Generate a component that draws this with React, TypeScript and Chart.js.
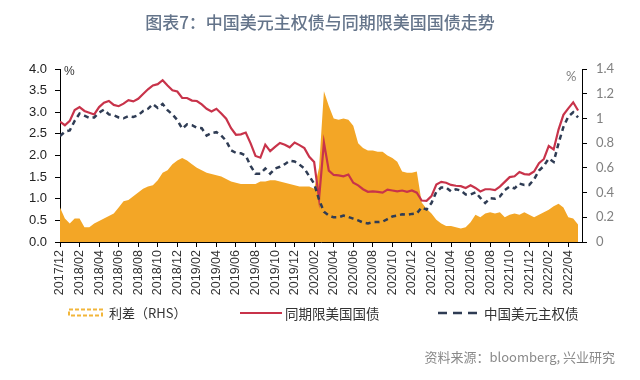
import React, { useEffect, useRef } from 'react';
import { Chart, registerables } from 'chart.js';

Chart.register(...registerables);

// Samples every half month, starting 2017/12
const START_YEAR = 2017;
const START_MONTH = 12;
const STEP_MONTHS = 0.5;

// 同期限美国国债 (%, left axis)
const usTreasury = [
  2.78, 2.70, 2.80, 3.05, 3.12, 3.03, 2.99, 2.95, 3.12, 3.22,
  3.26, 3.17, 3.14, 3.20, 3.28, 3.25, 3.31, 3.42, 3.53, 3.62,
  3.65, 3.74, 3.62, 3.51, 3.48, 3.33, 3.33, 3.27, 3.26, 3.18,
  3.08, 3.02, 3.08, 2.97, 2.85, 2.63, 2.48, 2.49, 2.53, 2.28,
  1.99, 1.95, 2.25, 2.10, 2.20, 2.29, 2.25, 2.19, 2.30, 2.24,
  2.17, 1.97, 1.85, 1.00, 2.30, 1.65, 1.55, 1.54, 1.52, 1.56,
  1.37, 1.31, 1.22, 1.16, 1.17, 1.16, 1.14, 1.21, 1.19, 1.17,
  1.19, 1.16, 1.19, 1.14, 0.96, 0.95, 1.06, 1.33, 1.39, 1.37,
  1.32, 1.30, 1.29, 1.25, 1.31, 1.25, 1.17, 1.22, 1.22, 1.20,
  1.28, 1.39, 1.50, 1.52, 1.62, 1.57, 1.56, 1.63, 1.82, 1.92,
  2.22, 2.14, 2.60, 2.94, 3.09, 3.23, 3.04,
];

// 中国美元主权债 (%, left axis)
const chinaSovereign = [
  2.45, 2.55, 2.58, 2.80, 2.97, 2.92, 2.87, 2.88, 2.99, 3.06,
  2.95, 2.93, 2.88, 2.86, 2.91, 2.89, 2.93, 3.03, 3.08, 3.19,
  3.10, 3.19, 3.05, 2.95, 2.82, 2.62, 2.72, 2.70, 2.64, 2.63,
  2.46, 2.52, 2.54, 2.46, 2.34, 2.12, 2.06, 2.05, 2.00, 1.76,
  1.58, 1.58, 1.70, 1.58, 1.70, 1.74, 1.80, 1.88, 1.86, 1.79,
  1.70, 1.52, 1.35, 0.98, 0.70, 0.61, 0.57, 0.57, 0.61, 0.58,
  0.54, 0.50, 0.45, 0.43, 0.46, 0.46, 0.47, 0.53, 0.59, 0.61,
  0.64, 0.63, 0.65, 0.66, 0.80, 0.75, 0.90, 1.16, 1.26, 1.26,
  1.17, 1.22, 1.19, 1.10, 1.10, 1.15, 1.02, 0.90, 1.01, 1.00,
  1.05, 1.20, 1.28, 1.24, 1.35, 1.32, 1.32, 1.45, 1.65, 1.76,
  1.93, 1.85, 2.28, 2.66, 2.90, 3.00, 2.88,
];

// 利差 (%, right axis)
const spread = [
  0.28, 0.19, 0.15, 0.19, 0.19, 0.12, 0.12, 0.15, 0.17, 0.19,
  0.21, 0.23, 0.28, 0.33, 0.34, 0.37, 0.40, 0.43, 0.45, 0.46,
  0.50, 0.56, 0.58, 0.63, 0.66, 0.68, 0.66, 0.63, 0.60, 0.58,
  0.56, 0.55, 0.54, 0.53, 0.51, 0.49, 0.48, 0.47, 0.47, 0.47,
  0.47, 0.49, 0.49, 0.50, 0.50, 0.49, 0.48, 0.47, 0.46, 0.45,
  0.45, 0.45, 0.43, 0.60, 1.22, 1.10, 1.00, 0.99, 1.00, 0.99,
  0.94, 0.80, 0.76, 0.74, 0.74, 0.73, 0.73, 0.70, 0.68, 0.65,
  0.57, 0.56, 0.56, 0.57, 0.32, 0.27, 0.23, 0.18, 0.15, 0.13,
  0.13, 0.12, 0.11, 0.12, 0.16, 0.22, 0.20, 0.23, 0.24, 0.23,
  0.24, 0.20, 0.22, 0.23, 0.22, 0.24, 0.22, 0.20, 0.22, 0.24,
  0.26, 0.29, 0.31, 0.28, 0.20, 0.19, 0.14,
];

const TITLE = '图表7：中国美元主权债与同期限美国国债走势';
const LEGEND_SPREAD = '利差（RHS）';
const LEGEND_US = '同期限美国国债';
const LEGEND_CN = '中国美元主权债';
const SOURCE = '资料来源：bloomberg, 兴业研究';

const COLOR_SPREAD = '#F3A626';
const COLOR_US = '#C8334A';
const COLOR_CN = '#2F3C54';

function monthLabel(v: number): string {
  const total = START_YEAR * 12 + (START_MONTH - 1) + Math.round(v);
  const y = Math.floor(total / 12);
  const m = (total % 12) + 1;
  return `${y}/${String(m).padStart(2, '0')}`;
}

function toPoints(arr: number[]) {
  return arr.map((v, i) => ({ x: i * STEP_MONTHS, y: v }));
}

export default function App() {
  const canvasRef = useRef<HTMLCanvasElement | null>(null);

  useEffect(() => {
    if (!canvasRef.current) return;
    const chart = new Chart(canvasRef.current, {
      type: 'line',
      data: {
        datasets: [
          {
            label: LEGEND_CN,
            data: toPoints(chinaSovereign),
            borderColor: COLOR_CN,
            borderWidth: 2.5,
            borderDash: [5, 4],
            pointRadius: 0,
            fill: false,
            tension: 0,
            yAxisID: 'y',
          },
          {
            label: LEGEND_US,
            data: toPoints(usTreasury),
            borderColor: COLOR_US,
            borderWidth: 2.2,
            pointRadius: 0,
            fill: false,
            tension: 0,
            yAxisID: 'y',
          },
          {
            label: LEGEND_SPREAD,
            data: toPoints(spread),
            borderColor: COLOR_SPREAD,
            borderWidth: 0,
            backgroundColor: COLOR_SPREAD,
            pointRadius: 0,
            fill: 'origin',
            tension: 0,
            yAxisID: 'y1',
          },
        ],
      },
      options: {
        animation: false,
        responsive: false,
        maintainAspectRatio: false,
        layout: { padding: { top: 69, left: 0, right: 0, bottom: 0 } },
        plugins: {
          legend: { display: false },
          title: { display: false },
          tooltip: { enabled: false },
        },
        scales: {
          x: {
            type: 'linear',
            min: 0,
            max: 53.4,
            afterFit: (s: any) => { s.height = 138; },
            afterBuildTicks: (s: any) => {
              s.ticks = s.ticks.filter((t: any) => Math.abs(t.value % 2) < 1e-6 && t.value <= 52);
            },
            ticks: {
              stepSize: 2,
              includeBounds: false,
              autoSkip: false,
              maxRotation: 90,
              minRotation: 90,
              padding: 3,
              color: '#333',
              font: { family: 'Liberation Sans', size: 12.5 },
              callback: (v: any) => monthLabel(Number(v)),
            },
            grid: { drawOnChartArea: false, drawTicks: true, tickLength: 5, color: '#000' },
            border: { color: '#000', width: 1 },
          },
          y: {
            position: 'left',
            min: 0,
            max: 4,
            afterFit: (s: any) => { s.width = 60; },
            ticks: {
              stepSize: 0.5,
              padding: 8,
              color: '#222',
              font: { family: 'Liberation Sans', size: 13 },
              callback: (v: any) => Number(v).toFixed(1),
            },
            grid: { drawOnChartArea: false, drawTicks: true, tickLength: 5, color: '#000' },
            border: { color: '#000', width: 1 },
          },
          y1: {
            position: 'right',
            min: 0,
            max: 1.4,
            afterFit: (s: any) => { s.width = 58; },
            ticks: {
              stepSize: 0.2,
              padding: 9,
              color: '#808080',
              font: { family: 'Lato', size: 13 },
              callback: (v: any) => String(Math.round(Number(v) * 10) / 10),
            },
            grid: { drawOnChartArea: false, drawTicks: true, tickLength: 5, color: '#000' },
            border: { color: '#000', width: 1 },
          },
        },
      },
    } as any);
    return () => chart.destroy();
  }, []);

  const cjk = '"Noto Sans CJK SC", "Noto Sans", sans-serif';

  return (
    <div style={{ position: 'fixed', left: 0, top: 0, width: 640, height: 380, background: '#fff', overflow: 'hidden' }}>
      <canvas ref={canvasRef} width={640} height={380} style={{ position: 'absolute', left: 0, top: 0, width: 640, height: 380 }} />
      <div style={{ position: 'absolute', left: 0, top: 11, width: 640, textAlign: 'center', fontFamily: cjk, fontSize: 17, lineHeight: '22px', color: '#64748a', fontWeight: 500 }}>
        {TITLE}
      </div>
      <div style={{ position: 'absolute', left: 64, top: 64, fontFamily: 'Liberation Sans', fontSize: 12, color: '#333' }}>%</div>
      <div style={{ position: 'absolute', left: 566, top: 68, fontFamily: 'Lato', fontSize: 13, color: '#808080' }}>%</div>

      <svg style={{ position: 'absolute', left: 68, top: 308 }} width={36} height={10}>
        <rect x={1} y={1.5} width={33} height={6} fill="none" stroke="#F2B63A" strokeWidth={2} strokeDasharray="4,2" />
      </svg>
      <div style={{ position: 'absolute', left: 109, top: 304, fontFamily: cjk, fontSize: 13, lineHeight: '18px', color: '#333' }}>{LEGEND_SPREAD}</div>

      <svg style={{ position: 'absolute', left: 240, top: 311 }} width={42} height={4}>
        <line x1={0} y1={2} x2={42} y2={2} stroke={COLOR_US} strokeWidth={2} />
      </svg>
      <div style={{ position: 'absolute', left: 285, top: 304, fontFamily: cjk, fontSize: 13.5, lineHeight: '18px', color: '#333' }}>{LEGEND_US}</div>

      <svg style={{ position: 'absolute', left: 438, top: 311 }} width={42} height={4}>
        <line x1={0} y1={2} x2={42} y2={2} stroke={COLOR_CN} strokeWidth={2.5} strokeDasharray="9,6" />
      </svg>
      <div style={{ position: 'absolute', left: 484, top: 304, fontFamily: cjk, fontSize: 13.5, lineHeight: '18px', color: '#333' }}>{LEGEND_CN}</div>

      <div style={{ position: 'absolute', right: 25, top: 348, fontFamily: cjk, fontSize: 13, lineHeight: '18px', color: '#8a8a8a' }}>{SOURCE}</div>
    </div>
  );
}
